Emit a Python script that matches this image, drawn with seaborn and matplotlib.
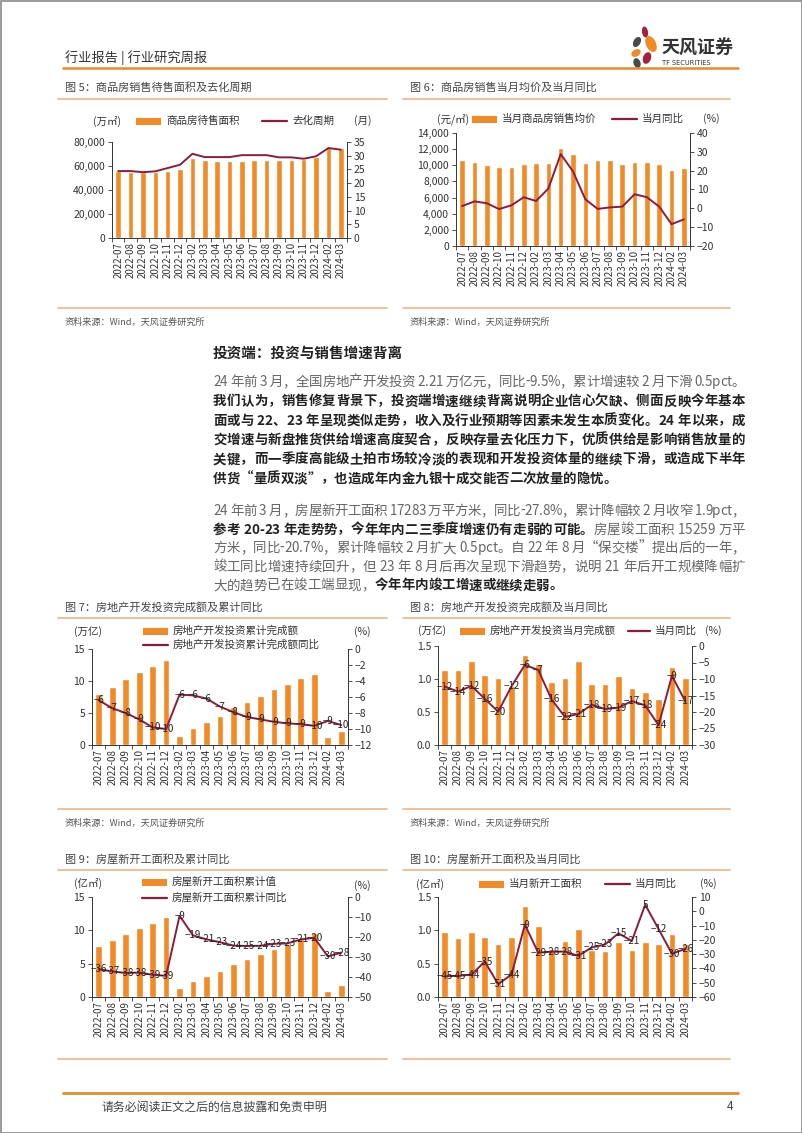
import numpy as np
import pandas as pd
import matplotlib.pyplot as plt
import seaborn as sns
from matplotlib import font_manager as fm
from matplotlib.patches import Rectangle, Ellipse
from matplotlib.lines import Line2D
from matplotlib.ticker import FuncFormatter, MultipleLocator

W, H = 802, 1133
ORANGE = "#F28A25"
RED = "#8E1B3E"
RULE = "#F4B480"
BODY_SIZE = 9.7

months = ["2022-07", "2022-08", "2022-09", "2022-10", "2022-11", "2022-12",
          "2023-02", "2023-03", "2023-04", "2023-05", "2023-06", "2023-07",
          "2023-08", "2023-09", "2023-10", "2023-11", "2023-12", "2024-02", "2024-03"]

# fig 5
unsold_area = [55500, 55000, 54700, 55000, 55500, 57200, 66300, 65000, 64300, 64300,
               64300, 65000, 65000, 65000, 65000, 66000, 67500, 76000, 75000]
destock_cycle = [24.4, 24.4, 24.0, 24.3, 25.5, 26.7, 30.7, 29.5, 29.5, 29.5,
                 30.2, 30.2, 30.2, 29.4, 29.4, 28.9, 29.8, 32.8, 32.2]
# fig 6
avg_price = [10600, 10400, 10000, 9800, 9800, 10200, 10300, 10300, 12100, 11400,
             10300, 10600, 10600, 10200, 10400, 10400, 10200, 9400, 9700]
price_yoy = [1.2, 3.7, 2.7, -0.4, 1.6, 5.9, 3.9, 10.5, 28.8, 19.6,
             4.8, -0.3, 0.5, 0.9, 7.5, 5.9, 0.9, -8.4, -5.9]
# fig 7
invest_cum = [7.99, 9.08, 10.36, 11.39, 12.39, 13.29, 1.37, 2.60, 3.55, 4.57,
              5.86, 6.77, 7.69, 8.73, 9.59, 10.40, 11.09, 1.18, 2.21]
invest_cum_yoy = [-6.4, -7.4, -8.0, -8.8, -9.8, -10.0, -5.7, -5.8, -6.2, -7.2,
                  -7.9, -8.5, -8.8, -9.1, -9.3, -9.4, -9.6, -9.0, -9.5]
# fig 8
invest_month = [1.13, 1.14, 1.28, 1.06, 1.01, 0.90, 1.37, 1.23, 0.95, 1.02,
                1.28, 0.92, 0.92, 1.04, 0.87, 0.81, 0.69, 1.18, 1.02]
invest_month_yoy = [-12.3, -13.8, -12.1, -16.0, -19.9, -12.2, -5.7, -7.3, -16.2, -21.5,
                    -20.6, -17.8, -19.1, -18.7, -16.7, -18.0, -24.0, -9.0, -16.8]
# fig 9
start_cum = [7.67, 8.51, 9.48, 10.37, 11.16, 12.06, 1.36, 2.41, 3.14, 3.97,
             4.99, 5.70, 6.39, 7.21, 7.92, 8.75, 9.54, 0.94, 1.73]
start_cum_yoy = [-36.1, -37.2, -38.0, -37.8, -38.9, -39.4, -9.4, -19.2, -21.2, -22.6,
                 -24.3, -24.5, -24.4, -23.4, -23.2, -21.2, -20.4, -29.7, -27.8]
# fig 10
start_month = [0.97, 0.89, 0.97, 0.90, 0.79, 0.90, 1.36, 1.06, 0.72, 0.84,
               1.02, 0.71, 0.69, 0.82, 0.71, 0.83, 0.79, 0.94, 0.79]
start_month_yoy = [-45.4, -45.2, -44.4, -35.2, -51.0, -44.3, -9.4, -29.0, -28.3, -28.2,
                   -31.2, -25.3, -23.2, -15.4, -20.8, 4.6, -12.4, -29.7, -26.3]

para1 = [
    [("24 年前 3 月，全国房地产开发投资 2.21 万亿元，同比-9.5%，累计增速较 2 月下滑 0.5pct。", False)],
    [("我们认为，销售修复背景下，投资端增速继续背离说明企业信心欠缺、侧面反映今年基本", True)],
    [("面或与 22、23 年呈现类似走势，收入及行业预期等因素未发生本质变化。24 年以来，成", True)],
    [("交增速与新盘推货供给增速高度契合，反映存量去化压力下，优质供给是影响销售放量的", True)],
    [("关键，而一季度高能级土拍市场较冷淡的表现和开发投资体量的继续下滑，或造成下半年", True)],
    [("供货“量质双淡”，也造成年内金九银十成交能否二次放量的隐忧。", True)],
]
para2 = [
    [("24 年前 3 月，房屋新开工面积 17283 万平方米，同比-27.8%，累计降幅较 2 月收窄 1.9pct，", False)],
    [("参考 20-23 年走势势，今年年内二三季度增速仍有走弱的可能。", True), ("房屋竣工面积 15259 万平", False)],
    [("方米，同比-20.7%，累计降幅较 2 月扩大 0.5pct。自 22 年 8 月“保交楼”提出后的一年，", False)],
    [("竣工同比增速持续回升，但 23 年 8 月后再次呈现下滑趋势，说明 21 年后开工规模降幅扩", False)],
    [("大的趋势已在竣工端显现，", False), ("今年年内竣工增速或继续走弱。", True)],
]

sns.set_style("ticks")
plt.rcParams["font.family"] = ["Noto Sans CJK SC", "DejaVu Sans"]
plt.rcParams["axes.unicode_minus"] = True

fig = plt.figure(figsize=(W / 100, H / 100), dpi=100)
page = fig.add_axes([0, 0, 1, 1])
page.set_xlim(0, W)
page.set_ylim(H, 0)
page.axis("off")


def label_of(v):
    return str(int(np.sign(v) * np.floor(abs(v) + 0.5))).replace("-", "\u2212")


def hline(x0, x1, y, color=RULE, lw=1.2):
    page.add_line(Line2D([x0, x1], [y, y], color=color, lw=lw))


def patch_item(x, y, label, w=25):
    page.add_patch(Rectangle((x, y - 3.5), w, 7, color=ORANGE, lw=0, zorder=5))
    page.text(x + w + 5, y, label, fontsize=7.6, va="center", color="#333")


def line_item(x, y, label, w=25):
    page.add_line(Line2D([x, x + w], [y, y], color=RED, lw=1.6))
    page.text(x + w + 5, y, label, fontsize=7.6, va="center", color="#333")


def unit(x, y, s):
    page.text(x, y, s, fontsize=7.6, ha="center", va="center", color="#333")


def combo_chart(box, bar_vals, line_vals, ylim, ystep, yfmt, y2lim, y2step, labels=False, width=0.45):
    left, top, right, bottom = box
    ax = fig.add_axes([left / W, 1 - bottom / H, (right - left) / W, (bottom - top) / H])
    df = pd.DataFrame({"month": months, "bar": bar_vals, "line": line_vals,
                       "pos": np.arange(len(months))})
    sns.barplot(data=df, x="month", y="bar", color=ORANGE, saturation=1, width=width, ax=ax)
    ax2 = ax.twinx()
    sns.lineplot(data=df, x="pos", y="line", color=RED, linewidth=1.4, ax=ax2)
    if labels:
        for p, v in zip(df["pos"], df["line"]):
            ax2.text(p, v, label_of(v), ha="center", va="center", fontsize=7, color="#222")
    ax.set_ylim(*ylim)
    ax.yaxis.set_major_locator(MultipleLocator(ystep))
    ax.yaxis.set_major_formatter(FuncFormatter(yfmt))
    ax2.set_ylim(*y2lim)
    ax2.yaxis.set_major_locator(MultipleLocator(y2step))
    ax2.yaxis.set_major_formatter(FuncFormatter(lambda v, _: label_of(v)))
    n = len(months)
    ax.set_xlim(-0.5, n - 0.5)
    ax.set_xticks(np.arange(n))
    ax.set_xticklabels(months, rotation=90, fontsize=7, color="#333")
    ax.set_xticks(np.arange(-0.5, n, 1), minor=True)
    ax.tick_params(axis="x", which="major", length=0, pad=3)
    ax.tick_params(axis="x", which="minor", length=3, width=0.6, color="#333")
    ax.tick_params(axis="y", length=3, width=0.6, labelsize=7.5, pad=2, colors="#333", right=False)
    ax2.tick_params(axis="y", length=3, width=0.6, labelsize=7.5, pad=2, colors="#333")
    for a in (ax, ax2):
        a.set_xlabel("")
        a.set_ylabel("")
        a.patch.set_visible(False)
        a.spines["top"].set_visible(False)
        for s in ("left", "right", "bottom"):
            a.spines[s].set_color("#333")
            a.spines[s].set_linewidth(0.7)
    ax.spines["right"].set_visible(False)
    ax2.spines["left"].set_visible(False)
    ax2.spines["bottom"].set_visible(False)
    return ax, ax2


def advance(c, bold):
    fp = fm.FontProperties(family="Noto Sans CJK SC", weight="bold" if bold else "normal", size=BODY_SIZE)
    font = fm.get_font(fm.findfont(fp))
    font.set_size(BODY_SIZE, 100)
    return font.load_char(ord(c)).linearHoriAdvance / 65536


def draw_para(lines, y0, step, left=213, right=745):
    # justified like the report: each glyph placed by hand
    for i, segs in enumerate(lines):
        y = y0 + i * step
        chars = [(c, b) for s, b in segs for c in s]
        adv = [advance(c, b) for c, b in chars]
        extra = 0 if i == len(lines) - 1 else (right - left - sum(adv)) / (len(chars) - 1)
        x = left
        for (c, b), a in zip(chars, adv):
            if c != " ":
                page.text(x, y, c, va="center", fontsize=BODY_SIZE,
                          fontweight="bold" if b else "normal", color="#222" if b else "#666")
            x += a + extra


# page frame, header, footer
page.add_patch(Rectangle((0.5, 0.5), W - 1, H - 1, fill=False, ec="#8a8a8a", lw=1.2))
page.text(65, 58, "行业报告 | 行业研究周报", fontsize=9.5, va="center", color="#333")
hline(63, 738, 68, color="#E98A2A", lw=1.8)
for (ex, ey, ew, eh, ang, col) in [(645, 32, 6, 11, -10, "#A3203E"), (637, 42, 7, 11, 30, "#4a4a4a"),
                                  (651, 44, 10, 17, -25, ORANGE), (636, 53, 7, 10, 60, ORANGE),
                                  (647, 58, 8, 12, 20, "#A3203E"), (637, 63, 7, 10, -20, "#4a4a4a")]:
    page.add_patch(Ellipse((ex, ey), ew, eh, angle=ang, color=col, lw=0))
page.text(661, 48, "天风证券", fontsize=13, fontweight="bold", va="center", color="#333")
page.text(662, 63, "TF SECURITIES", fontsize=4.8, va="center", color="#333", family=["DejaVu Sans"])
hline(63, 738, 1093, color="#E98A2A", lw=2)
page.text(102, 1107, "请务必阅读正文之后的信息披露和免责申明", fontsize=8.6, va="center", color="#444")
page.text(733, 1107, "4", fontsize=8.6, va="center", ha="right", color="#444")

# captions and sources
captions = [(65, 88, "图 5：商品房销售待售面积及去化周期"), (410, 88, "图 6：商品房销售当月均价及当月同比"),
            (65, 607, "图 7：房地产开发投资完成额及累计同比"), (410, 607, "图 8：房地产开发投资完成额及当月同比"),
            (65, 859, "图 9：房屋新开工面积及累计同比"), (410, 859, "图 10：房屋新开工面积及当月同比")]
for x, y, s in captions:
    page.text(x, y, s, fontsize=8, va="center", color="#444")
for y in (99, 618, 870, 308, 809, 1059):
    hline(58, 387, y)
    hline(403, 730, y)
for y in (322, 823):
    page.text(65, y, "资料来源：Wind，天风证券研究所", fontsize=6.6, va="center", color="#555")
    page.text(410, y, "资料来源：Wind，天风证券研究所", fontsize=6.6, va="center", color="#555")

# body text
page.text(213, 353, "投资端：投资与销售增速背离", fontsize=10.5, fontweight="bold", va="center", color="#222")
draw_para(para1, 382, 19.3)
draw_para(para2, 511, 18.6)

# charts
thousands = lambda v, _: f"{v:,.0f}"
ints = lambda v, _: f"{v:.0f}"
one_dec = lambda v, _: f"{v:.1f}"

combo_chart((112, 142, 347, 238), unsold_area, destock_cycle, (0, 80000), 20000, thousands, (0, 35), 5)
unit(107, 121, "(万㎡)")
patch_item(136, 121, "商品房待售面积")
line_item(262, 121, "去化周期")
unit(363, 121, "(月)")

combo_chart((456, 133, 690, 246), avg_price, price_yoy, (0, 14000), 2000, thousands, (-20, 40), 10)
unit(453, 119, "(元/㎡)")
patch_item(472, 119, "当月商品房销售均价")
line_item(612, 119, "当月同比")
unit(711, 119, "(%)")

combo_chart((92, 649, 348, 745), invest_cum, invest_cum_yoy, (0, 15), 5, ints, (-12, 0), 2, labels=True, width=0.5)
unit(88, 632, "(万亿)")
patch_item(143, 631, "房地产开发投资累计完成额")
line_item(143, 645, "房地产开发投资累计完成额同比")
unit(362, 632, "(%)")

combo_chart((438, 646, 692, 745), invest_month, invest_month_yoy, (0, 1.5), 0.5, one_dec, (-30, 0), 5, labels=True, width=0.5)
unit(432, 631, "(万亿)")
patch_item(460, 631, "房地产开发投资当月完成额")
line_item(628, 631, "当月同比", w=22)
unit(713, 631, "(%)")

combo_chart((92, 897, 348, 997), start_cum, start_cum_yoy, (0, 15), 5, ints, (-50, 0), 10, labels=True, width=0.5)
unit(88, 883, "(亿㎡)")
patch_item(142, 882, "房屋新开工面积累计值")
line_item(142, 898, "房屋新开工面积累计同比")
unit(362, 886, "(%)")

combo_chart((438, 897, 692, 997), start_month, start_month_yoy, (0, 1.5), 0.5, one_dec, (-60, 10), 10, labels=True, width=0.5)
unit(430, 884, "(亿㎡)")
patch_item(479, 884, "当月新开工面积")
line_item(605, 884, "当月同比")
unit(708, 884, "(%)")

fig.savefig("out.png", dpi=100)
